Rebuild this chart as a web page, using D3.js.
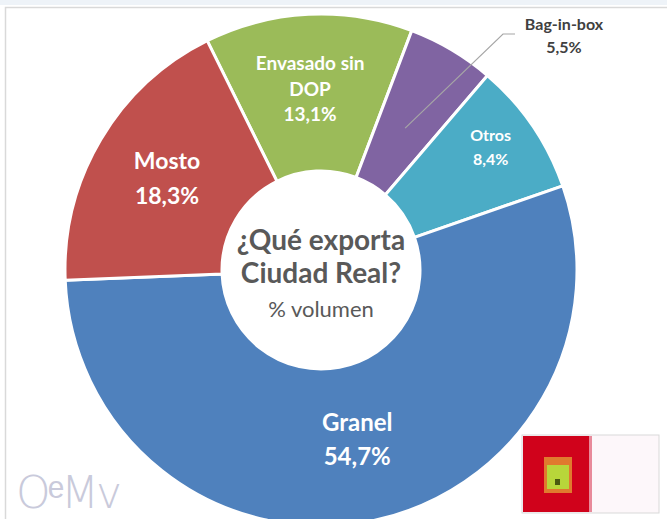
<!DOCTYPE html>
<html>
<head>
<meta charset="utf-8">
<script src="https://cdn.jsdelivr.net/npm/d3@7"></script>
<style>
  body { margin: 0; background: #fff; }
  svg { display: block; font-family: Lato, "Noto Sans", sans-serif; }
</style>
</head>
<body>
<svg id="chart"></svg>
<script>
const categories = ['Envasado sin DOP', 'Bag-in-box', 'Otros', 'Granel', 'Mosto'];
const values = [13.1, 5.5, 8.4, 54.7, 18.3];
const colors = ['#9BBB59', '#8064A2', '#4BACC6', '#4F81BD', '#C0504D'];
const labelLines = [['Envasado sin', 'DOP', '13,1%'], ['Bag-in-box', '5,5%'], ['Otros', '8,4%'], ['Granel', '54,7%'], ['Mosto', '18,3%']];

const width = 667, height = 519;
const cx = 321, cy = 270, outerR = 256, innerR = 99;

const svg = d3.select('#chart').attr('width', width).attr('height', height);

// top band + frame
svg.append('rect').attr('x', 0).attr('y', 0).attr('width', width).attr('height', 5).attr('fill', '#EEF3F8');
svg.append('rect').attr('x', 5.5).attr('y', 7.5).attr('width', width + 10).attr('height', height + 10)
    .attr('fill', 'none').attr('stroke', '#D9D9D9').attr('stroke-width', 1.5);

const data = categories.map((c, i) => ({ name: c, value: values[i], color: colors[i], lines: labelLines[i] }));

const startAngle = -26.4 * Math.PI / 180;
const pie = d3.pie().sort(null).value(d => d.value)
    .startAngle(startAngle).endAngle(startAngle + 2 * Math.PI);
const arcs = pie(data);

const arc = d3.arc().innerRadius(innerR).outerRadius(outerR);
const g = svg.append('g').attr('transform', `translate(${cx},${cy})`);

g.selectAll('path.slice')
    .data(arcs)
    .join('path')
    .attr('class', 'slice')
    .attr('d', arc)
    .attr('fill', d => d.data.color)
    .attr('stroke', '#fff')
    .attr('stroke-width', 3);

// inner labels: centroid on a label radius, small nudges like Excel does
const labelSpec = {
    'Envasado sin DOP': { r: 181, size: 19, lh: 25.5, dx: -2, dy: 0 },
    'Otros': { r: 209, size: 16, lh: 24, dx: -3, dy: -4.5 },
    'Granel': { r: 173, size: 24, lh: 34, dx: 4, dy: 0 },
    'Mosto': { r: 179, size: 23, lh: 35, dx: 0, dy: 0 }
};

arcs.forEach(a => {
    const spec = labelSpec[a.data.name];
    if (!spec) return;
    let [x, y] = d3.arc().innerRadius(spec.r).outerRadius(spec.r).centroid(a);
    x += spec.dx; y += spec.dy;
    const n = a.data.lines.length;
    const t = g.append('text')
        .attr('text-anchor', 'middle')
        .attr('fill', '#fff')
        .style('font-weight', 'bold')
        .style('font-size', spec.size + 'px');
    a.data.lines.forEach((line, i) => {
        t.append('tspan')
            .attr('x', x)
            .attr('y', y + (i - (n - 1) / 2) * spec.lh + spec.size * 0.35)
            .text(line);
    });
});

// Bag-in-box outside label with leader line
const bag = arcs[1];
const [bx, by] = d3.arc().innerRadius(165).outerRadius(165).centroid(bag);
svg.append('polyline')
    .attr('points', `${cx + bx},${cy + by} 503,34 515,34`)
    .attr('fill', 'none').attr('stroke', '#A6A6A6').attr('stroke-width', 1.2);
const bt = svg.append('text').attr('text-anchor', 'middle').attr('fill', '#404040')
    .style('font-weight', 'bold').style('font-size', '16px');
bt.append('tspan').attr('x', 564).attr('y', 30).text(bag.data.lines[0]);
bt.append('tspan').attr('x', 564).attr('y', 53).text(bag.data.lines[1]);

// center title
const ct = g.append('text').attr('text-anchor', 'middle').attr('fill', '#595959');
ct.append('tspan').attr('x', 0).attr('y', -20).style('font-weight', 'bold').style('font-size', '28px').text('¿Qué exporta');
ct.append('tspan').attr('x', 0).attr('y', 13).style('font-weight', 'bold').style('font-size', '28px').text('Ciudad Real?');
ct.append('tspan').attr('x', 0).attr('y', 47).style('font-size', '22px').text('% volumen');

// watermark
svg.append('text').attr('x', 16).attr('y', 508).attr('fill', '#C9CADB')
    .style('font-family', '"DejaVu Sans", sans-serif').style('font-weight', '200')
    .style('font-size', '44px').style('letter-spacing', '-3px').text('OᵉMv');

// logo box
const logo = svg.append('g').attr('transform', 'translate(522,435)');
logo.append('rect').attr('width', 137).attr('height', 78).attr('fill', '#FDF7FA').attr('stroke', '#D9D9D9');
logo.append('rect').attr('x', 1).attr('y', 1).attr('width', 66).attr('height', 76).attr('fill', '#D0021B');
logo.append('rect').attr('x', 67).attr('y', 1).attr('width', 3).attr('height', 76).attr('fill', '#E88A9A');
logo.append('rect').attr('x', 22).attr('y', 22).attr('width', 28).attr('height', 36).attr('fill', '#E07A2E');
logo.append('rect').attr('x', 25).attr('y', 30).attr('width', 22).attr('height', 24).attr('fill', '#B8D63A');
logo.append('rect').attr('x', 33).attr('y', 44).attr('width', 5).attr('height', 6).attr('fill', '#4A5A10');
</script>
</body>
</html>
